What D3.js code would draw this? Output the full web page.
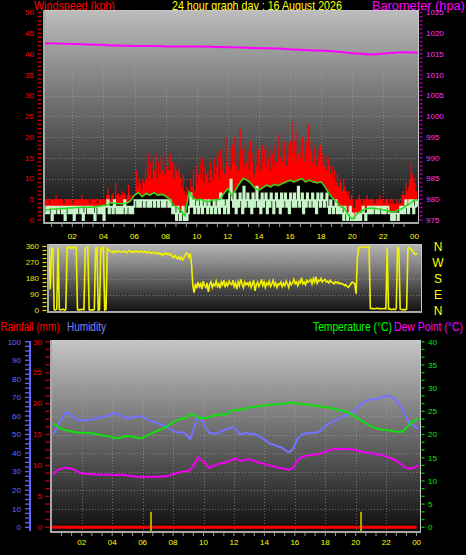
<!DOCTYPE html>
<html><head><meta charset="utf-8">
<script src="https://cdn.jsdelivr.net/npm/d3@7/dist/d3.min.js"></script>
<style>
html,body{margin:0;padding:0;background:#000;}
svg{display:block;font-family:"Liberation Sans",Arial,sans-serif;}
</style></head><body>
<svg id="c" width="466" height="555"></svg>
<script>
// ---------------- DATA ----------------
const titleText = "24 hour graph day : 16 August 2026";
const hourLabels = ["02","04","06","08","10","12","14","16","18","20","22","00"];
const hourLabelHours = [2,4,6,8,10,12,14,16,18,20,22,24];
const windTicks = [0,5,10,15,20,25,30,35,40,45,50];
const baroTicks = [975,980,985,990,995,1000,1005,1010,1015,1020,1025];
const dirTicks = [0,90,180,270,360];
const compassLabels = ["N","W","S","E","N"];
const compassDegrees = [360,270,180,90,0];
const humTicks = [0,10,20,30,40,50,60,70,80,90,100];
const rainTicks = [0,5,10,15,20,25,30];
const tempTicks = [0,5,10,15,20,25,30,35,40];

// wind samples: every 5 minutes starting 00:15
const windStartHour = 0.25, windStepMinutes = 5;
const windGust = [
 5,5,5,4,5,5,5,5,6,5,5,5,
 5,5,4,5,5,5,5,5,5,4,5,5,
 5,5,5,5,6,5,5,5,5,5,4,5,
 5,5,5,5,4,5,5,5,5,5,5,6,
 7.6,6,5,6,6.5,5,9,6,6.5,5.5,6,7,
 6,6.5,5,6,8.5,6,5,6,5.5,6,12,8,
 10,9,7,10,9,12.5,10,16,11,14,10,15,
 12,16,10,14,11,15,12,16,11,13,15,12,
 16,12,14,10,13,12,11,13,10,8,11,7,
 6,8,3,6,10,8,12,7,13,9,11,14,
 10,15,9,13,11,12,9,14,12,10,15,11,
 13,16,10,17,12,15,11,14,20,13,17,12,
 18,14,20,13,16,12,22,15,17,13,18,14,
 17,12,19,14,16,11,18,13,17,15,12,18,
 14,17,13,18,15,12,17,16,13,18,14,17,
 20.5,15,18,14,19,16,13,18,15,19,23.7,16,
 19,14,21,16,18,15,20,17,14,19,16,23,
 17,19,14,18,16,13,17,15,18,14,16,13,
 16,12,15,13,11,13,10,12,9,11,8,10,
 9,7,10,8,7,6,7,5,6,5,3,5,
 5,5,6,5,4,5,5,5,6,5,5,5,
 5,5,4,5,5,5,6,5,5,4,5,5,
 5,4,5,4,5,4,4,5,4,5,4,6,
 7,6,9,7,8,10,13.8,11,10,9,7,6
];
const windSpeed = [
 1.6,3.2,1.6,3.2,3.2,0,3.2,1.6,3.2,3.2,1.6,3.2,
 3.2,1.6,3.2,0,3.2,3.2,1.6,3.2,1.6,3.2,0,3.2,
 1.6,3.2,3.2,1.6,3.2,0,1.6,3.2,3.2,1.6,3.2,1.6,
 3.2,1.6,0,3.2,3.2,1.6,3.2,1.6,3.2,0,3.2,3.2,
 4.8,1.6,3.2,3.2,1.6,4.8,3.2,1.6,3.2,1.6,3.2,1.6,
 3.2,4.8,1.6,3.2,3.2,1.6,3.2,1.6,3.2,4.8,4.8,3.2,
 4.8,3.2,4.8,4.8,3.2,4.8,4.8,3.2,4.8,3.2,4.8,4.8,
 3.2,4.8,4.8,3.2,4.8,4.8,3.2,4.8,3.2,4.8,4.8,3.2,
 4.8,3.2,1.6,3.2,1.6,0,3.2,1.6,0,1.6,3.2,0,
 1.6,0,1.6,3.2,6.4,3.2,4.8,1.6,3.2,4.8,1.6,3.2,
 4.8,1.6,3.2,4.8,3.2,1.6,4.8,3.2,1.6,3.2,4.8,1.6,
 3.2,4.8,1.6,6.4,3.2,4.8,1.6,3.2,4.8,1.6,6.4,9.7,
 4.8,3.2,6.4,1.6,4.8,3.2,6.4,4.8,1.6,8,3.2,4.8,
 6.4,3.2,4.8,1.6,6.4,3.2,4.8,8,3.2,4.8,1.6,6.4,
 3.2,4.8,6.4,1.6,4.8,3.2,6.4,4.8,1.6,4.8,6.4,3.2,
 4.8,1.6,6.4,3.2,4.8,6.4,3.2,4.8,1.6,6.4,4.8,3.2,
 6.4,3.2,4.8,8,3.2,4.8,6.4,1.6,4.8,3.2,6.4,4.8,
 3.2,4.8,6.4,3.2,4.8,1.6,6.4,4.8,3.2,6.4,4.8,3.2,
 4.8,6.4,3.2,1.6,4.8,3.2,1.6,3.2,4.8,1.6,3.2,1.6,
 3.2,1.6,0,3.2,1.6,0,1.6,3.2,0,1.6,0,0,
 1.6,0,1.6,0,1.6,3.2,1.6,0,1.6,3.2,1.6,3.2,
 1.6,3.2,3.2,1.6,3.2,1.6,3.2,3.2,1.6,3.2,1.6,3.2,
 3.2,1.6,1.6,0,1.6,0,1.6,1.6,0,1.6,3.2,1.6,
 3.2,1.6,4.8,3.2,1.6,4.8,3.2,4.8,1.6,3.2,4.8,3.2
];
const windDirection = [
 350,352,348,350,120,352,350,5,3,8,355,5,
 3,5,8,2,6,355,352,358,350,355,352,356,
 354,5,2,6,3,8,4,350,356,352,4,2,
 5,3,6,350,355,2,5,352,348,355,3,6,
 350,340,335,330,332,325,335,328,330,335,332,330,
 328,335,330,325,332,338,330,327,333,329,335,330,
 332,328,335,330,326,333,329,324,330,327,322,328,
 325,320,327,318,323,316,322,310,318,325,315,320,
 312,318,305,296,310,300,292,305,288,300,285,295,
 310,325,318,300,320,260,140,100,150,125,160,135,
 150,120,165,140,130,155,105,145,160,130,150,140,
 165,135,150,125,160,145,170,130,155,140,165,150,
 145,170,135,155,120,160,140,175,150,130,160,145,
 155,140,165,130,150,170,110,145,160,135,150,175,
 140,160,130,155,145,165,135,150,170,140,155,130,
 150,145,160,135,155,140,165,150,130,160,145,155,
 175,150,160,140,165,155,185,150,160,145,170,160,
 165,175,150,180,160,190,155,170,165,180,160,170,
 175,160,165,155,170,160,158,150,162,155,160,150,
 155,148,150,140,145,135,130,140,150,160,155,150,
 95,300,350,355,357,356,357,358,356,357,358,12,
 10,12,9,11,13,10,12,9,11,10,12,10,
 355,8,10,5,6,9,4,10,355,352,8,5,
 3,6,4,8,352,355,348,340,332,318,315,322
];
// average wind: every 15 minutes starting 00:15
const avgStartHour = 0.25, avgStepMinutes = 15;
const windAverage = [
 2.4,2.5,2.6,2.7,2.8,2.8,2.9,2.9,3.0,3.0,3.0,3.1,3.1,3.2,3.3,3.5,
 3.6,4.2,4.0,4.0,3.9,4.1,4.6,6.0,6.6,5.6,6.4,6.0,6.6,6.0,6.2,5.8,
 5.0,3.6,3.0,2.2,1.0,6.8,5.4,4.8,5.0,4.6,4.4,4.8,4.8,5.0,6.4,7.6,
 6.0,7.2,8.8,10.0,9.6,8.8,7.6,7.2,7.8,8.4,8.0,8.6,8.3,8.8,9.2,9.6,
 9.2,9.6,10.0,9.2,9.6,9.2,9.0,9.2,8.0,6.4,5.2,4.4,3.2,2.8,1.2,0.2,
 1.2,2.0,2.4,2.8,2.9,2.8,2.6,2.4,2.3,2.0,2.0,2.4,2.8,3.6,4.0,4.8,4.8
];
// barometer: hourly starting 00:15
const baroStartHour = 0.25, baroStepMinutes = 60;
const barometer = [1017.6,1017.5,1017.4,1017.3,1017.1,1017.0,1016.9,1016.9,1016.8,1016.8,1016.8,1016.7,
 1016.6,1016.5,1016.4,1016.3,1016.1,1015.9,1015.8,1015.5,1015.1,1014.9,1015.2,1015.4,1015.3];

// lower chart: every 15 minutes starting 00:07
const thStartHour = 0.125, thStepMinutes = 15;
const humidity = [
 50,54,58,61,62,60,58.5,57.5,58,57.5,58,58.5,59,59.5,60,60.5,
 61.5,61,60,59,58.5,59.5,59.5,59.8,59,58,57,56.5,55.5,55,54,52.5,
 51.5,51,51.2,50,47.5,53,60,57.5,54,51,50.5,50.5,51.5,52.5,53,54,
 53,50,50.5,51,50,50.5,49,48,46.5,45,44.5,43.5,43,41.5,40.5,42,
 47,49.5,50.5,50.5,51,51,51.5,53.5,55,56.5,57.5,58.5,59.5,60.5,61.5,62.5,
 64.5,66.5,68,68.8,69,69.3,69.6,70.5,70.8,70,68.5,66,63,58,55.5,54.5,53.3
];
const temperature = [
 22.4,21.8,21.3,21.0,20.8,20.6,20.5,20.4,20.4,20.3,20.3,20.1,20.0,19.8,19.7,19.5,
 19.3,19.2,19.4,19.6,19.7,19.5,19.3,19.2,19.5,19.9,20.3,20.7,21.0,21.3,21.8,22.4,
 22.9,23.2,23.4,23.7,24.4,24.2,23.7,23.5,23.6,23.8,24.0,24.2,24.4,24.2,24.6,25.2,
 25.3,25.3,25.5,25.7,25.9,26.0,26.1,26.2,26.3,26.4,26.5,26.5,26.6,26.7,26.8,26.9,
 26.7,26.6,26.5,26.4,26.3,26.2,26.1,26.0,25.8,25.7,25.5,25.3,25.1,24.9,24.5,24.0,
 23.5,23.0,22.5,22.1,21.6,21.3,21.1,21.0,20.9,20.8,20.6,20.6,20.7,21.6,22.5,23.0,23.5
];
const dewPoint = [
 11.3,12.3,12.6,12.8,12.8,12.6,12.2,11.7,11.6,11.5,11.5,11.4,11.4,11.3,11.3,11.3,
 11.2,11.3,11.3,11.2,11.1,11.0,10.9,10.9,10.8,10.9,10.9,10.9,10.9,11.0,11.0,11.3,
 11.6,11.8,12.0,12.1,12.3,13.5,15.1,14.4,13.8,12.8,13.2,13.5,13.8,13.9,14.2,14.5,
 14.9,14.4,14.3,14.6,14.6,14.2,13.9,13.8,13.5,13.3,13.1,12.9,12.7,12.6,12.4,12.8,
 14.2,15.0,15.3,15.5,15.6,15.7,15.8,16.1,16.5,16.7,16.8,16.9,16.9,16.9,16.8,16.7,
 16.5,16.3,16.1,16.0,15.9,15.7,15.6,15.4,15.1,14.8,14.4,13.9,13.2,12.7,12.7,12.9,13.4
];
// rainfall (mm), hourly
const rainStartHour = 0, rainStepMinutes = 60;
const rainfall = [0,0,0,0,0,0,0,0,0,0,0,0,0,0,0,0,0,0,0,0,0,0,0,0,0];
// rain rate spikes
const rainEventHours = [6.55, 20.35];
const rainEventValues = [2.5, 2.5];

// ---------------- DRAW ----------------
const svg = d3.select('#c');
const defs = svg.append('defs');
function grad(id, c0, c1){
  const g = defs.append('linearGradient').attr('id',id).attr('x1',0).attr('y1',0).attr('x2',0).attr('y2',1);
  g.append('stop').attr('offset',0).attr('stop-color',c0);
  g.append('stop').attr('offset',1).attr('stop-color',c1);
}
grad('gTop','#bdbdbd','#0c0c0c');
grad('gMid','#b8b8b8','#0d0d0d');
grad('gBot','#c6c6c6','#0c0c0c');
function clip(id,r){ defs.append('clipPath').attr('id',id).append('rect')
  .attr('x',r.l).attr('y',r.t).attr('width',r.r-r.l).attr('height',r.b-r.t); }
const times = (start, stepMin, arr) => arr.map((v,i)=>({t: start + i*stepMin/60, v}));
const fontSm = 8;

function frame(r, gid){
  svg.append('rect').attr('x',r.l).attr('y',r.t).attr('width',r.r-r.l).attr('height',r.b-r.t)
    .attr('fill',`url(#${gid})`);
}
function border(r){
  svg.append('rect').attr('x',r.l+0.5).attr('y',r.t+0.5).attr('width',r.r-r.l-1).attr('height',r.b-r.t-1)
    .attr('fill','none').attr('stroke','#c8c8c8').attr('stroke-width',1);
  svg.append('line').attr('x1',r.l+1).attr('x2',r.l+1).attr('y1',r.t).attr('y2',r.b).attr('stroke','#a8a8a8').attr('stroke-width',2);
  svg.append('line').attr('x1',r.l).attr('x2',r.r).attr('y1',r.b-1).attr('y2',r.b-1).attr('stroke','#a8a8a8').attr('stroke-width',2);
}
function gridH(r, ys){
  svg.append('g').selectAll('line').data(ys).join('line')
    .attr('x1',r.l).attr('x2',r.r).attr('y1',d=>Math.round(d)+0.5).attr('y2',d=>Math.round(d)+0.5)
    .attr('stroke','#a5a5a5').attr('stroke-opacity',0.55).attr('stroke-dasharray','1,2');
}
function gridV(r, xs){
  svg.append('g').selectAll('line').data(xs).join('line')
    .attr('y1',r.t).attr('y2',r.b).attr('x1',d=>Math.round(d)+0.5).attr('x2',d=>Math.round(d)+0.5)
    .attr('stroke','#a5a5a5').attr('stroke-opacity',0.55).attr('stroke-dasharray','1,2');
}
function text(x,y,s,fill,size,anchor){
  return svg.append('text').attr('x',x).attr('y',y).attr('fill',fill).attr('font-size',size)
    .attr('text-anchor',anchor||'start').text(s);
}
// caption text stretched horizontally to the width it has in the picture
function caption(x,y,s,fill,size,targetW){
  const g = svg.append('g').attr('transform',`translate(${x},${y})`);
  const t = g.append('text').attr('x',0).attr('y',0).attr('fill',fill).attr('font-size',size).text(s);
  const w = t.node().getComputedTextLength();
  g.attr('transform',`translate(${x},${y}) scale(${targetW/w},1)`);
}

// ---- titles (drawn first so plot covers descenders)
caption(34,9.5,"Windspeed (kph)","#ff0000",12,81);
caption(172,9.5,titleText,"#ffff00",12,170);
caption(372,9.5,"Barometer (hpa)","#ff00ff",12,93);

// ================= TOP CHART =================
const T = {l:43, r:419, t:10, b:224};
const xTop = d3.scaleLinear().domain([0,24]).range([41.2,414.4]);
const yWind = d3.scaleLinear().domain([0,50]).range([220,12.5]);
const yBaro = d3.scaleLinear().domain([975,1025]).range([220,12.5]);
frame(T,'gTop');
gridH(T, windTicks.filter(v=>v>0&&v<50).map(yWind));
gridV(T, hourLabelHours.filter(h=>h<24).map(xTop));
clip('cTop',{l:T.l+2,r:T.r-1,t:T.t+1,b:T.b-2});
const gTop = svg.append('g').attr('clip-path','url(#cTop)');
const gustD = times(windStartHour, windStepMinutes, windGust);
const spdD = times(windStartHour, windStepMinutes, windSpeed);
const avgD = times(avgStartHour, avgStepMinutes, windAverage);
const baroD = times(baroStartHour, baroStepMinutes, barometer);
gTop.append('path').datum(gustD)
  .attr('d', d3.area().curve(d3.curveStepAfter).x(d=>xTop(d.t)).y0(yWind(0)).y1(d=>yWind(d.v)))
  .attr('fill','#ff0000');
gTop.append('path').datum(avgD)
  .attr('d', d3.area().curve(d3.curveLinear).x(d=>xTop(d.t)).y0(yWind(0)+2).y1(d=>yWind(d.v)+1))
  .attr('fill','#000');
gTop.append('path').datum(spdD)
  .attr('d', d3.line().curve(d3.curveStepAfter).x(d=>xTop(d.t)).y(d=>yWind(d.v)))
  .attr('fill','none').attr('stroke','#c8f5c8').attr('stroke-width',1.9);
gTop.append('path').datum(avgD)
  .attr('d', d3.line().x(d=>xTop(d.t)).y(d=>yWind(d.v)))
  .attr('fill','none').attr('stroke','#1fe01f').attr('stroke-width',1.5);
gTop.append('path').datum(baroD)
  .attr('d', d3.line().curve(d3.curveMonotoneX).x(d=>xTop(d.t)).y(d=>yBaro(d.v)))
  .attr('fill','none').attr('stroke','#ff00ff').attr('stroke-width',2);
border(T);
// left ticks
svg.append('g').selectAll('line').data(d3.range(0,51)).join('line')
  .attr('x1',37.5).attr('x2',41.5).attr('y1',d=>yWind(d)).attr('y2',d=>yWind(d))
  .attr('stroke','#d40000').attr('stroke-width',1.3);
windTicks.forEach(v=>text(34,yWind(v),String(v),'#ff0000',fontSm,'end').attr('dy','0.35em'));
// right ticks
svg.append('g').selectAll('line').data(d3.range(975,1026)).join('line')
  .attr('x1',419.5).attr('x2',422.5).attr('y1',d=>yBaro(d)).attr('y2',d=>yBaro(d))
  .attr('stroke','#b400b4').attr('stroke-width',1.3);
baroTicks.forEach(v=>text(426,yBaro(v),String(v),'#ff33ff',fontSm,'start').attr('dy','0.35em'));
// x ticks + labels
svg.append('g').selectAll('line').data(d3.range(1,36)).join('line')
  .attr('x1',d=>xTop(d*2/3)).attr('x2',d=>xTop(d*2/3)).attr('y1',224).attr('y2',227)
  .attr('stroke','#9a9a9a');
hourLabels.forEach((s,i)=>text(xTop(hourLabelHours[i]),236,s,'#ffff00',fontSm,'middle').attr('dy','0.35em'));

// ================= MIDDLE CHART =================
const M = {l:47, r:422, t:244, b:313};
const yDir = d3.scaleLinear().domain([0,360]).range([310.5,246.5]);
frame(M,'gMid');
gridH(M, [90,180,270].map(yDir));
clip('cMid',{l:M.l+2,r:M.r-1,t:M.t+1,b:M.b-2});
const dirD = times(windStartHour, windStepMinutes, windDirection);
svg.append('g').attr('clip-path','url(#cMid)').append('path').datum(dirD)
  .attr('d', d3.line().x(d=>xTop(d.t)).y(d=>yDir(d.v)))
  .attr('fill','none').attr('stroke','#f2f200').attr('stroke-width',1.6);
border(M);
svg.append('g').selectAll('line').data(d3.range(0,361,22.5)).join('line')
  .attr('x1',42.5).attr('x2',46.5).attr('y1',d=>yDir(d)).attr('y2',d=>yDir(d))
  .attr('stroke','#d8d800').attr('stroke-width',1.3);
dirTicks.forEach(v=>text(39,yDir(v),String(v),'#e8e800',fontSm,'end').attr('dy','0.35em'));
compassLabels.forEach((s,i)=>text(438,yDir(compassDegrees[i]),s,'#ffff00',12,'middle').attr('dy','0.36em'));

// ================= BOTTOM CHART =================
caption(0.5,330.5,"Rainfall (mm)","#ff0000",12,59);
caption(67,330.5,"Humidity","#8080ff",12,39);
caption(313,330.5,"Temperature (°C)","#00ff00",12,79);
caption(394,330.5,"Dew Point (°C)","#ff00ff",12,69);
const B = {l:50, r:421, t:340, b:533};
const xBot = d3.scaleLinear().domain([0,24]).range([51.3,416.6]);
const yHum = d3.scaleLinear().domain([0,100]).range([527.3,341.7]);
const yRain = d3.scaleLinear().domain([0,30]).range([527.3,341.7]);
const yTemp = d3.scaleLinear().domain([0,40]).range([527.3,341.7]);
frame(B,'gBot');
gridH(B, humTicks.filter(v=>v>0&&v<100).map(yHum));
gridV(B, hourLabelHours.filter(h=>h<24).map(xBot));
clip('cBot',{l:B.l+2,r:B.r-1,t:B.t+1,b:B.b-2});
const gB = svg.append('g').attr('clip-path','url(#cBot)');
const humD = times(thStartHour, thStepMinutes, humidity);
const tD = times(thStartHour, thStepMinutes, temperature);
const dD = times(thStartHour, thStepMinutes, dewPoint);
const rD = times(rainStartHour, rainStepMinutes, rainfall);
gB.append('path').datum(humD).attr('d', d3.line().x(d=>xBot(d.t)).y(d=>yHum(d.v)))
  .attr('fill','none').attr('stroke','#7373ff').attr('stroke-width',2);
gB.append('path').datum(tD).attr('d', d3.line().x(d=>xBot(d.t)).y(d=>yTemp(d.v)))
  .attr('fill','none').attr('stroke','#10e010').attr('stroke-width',2);
gB.append('path').datum(dD).attr('d', d3.line().x(d=>xBot(d.t)).y(d=>yTemp(d.v)))
  .attr('fill','none').attr('stroke','#f000f0').attr('stroke-width',2);
gB.append('path').datum(rD).attr('d', d3.line().x(d=>xBot(d.t)).y(d=>yRain(d.v)))
  .attr('fill','none').attr('stroke','#ff0000').attr('stroke-width',3);
border(B);
svg.append('g').selectAll('line').data(rainEventHours).join('line')
  .attr('x1',d=>xBot(d)).attr('x2',d=>xBot(d)).attr('y1',B.b-1)
  .attr('y2',(d,i)=>yRain(rainEventValues[i]))
  .attr('stroke','#a8a800').attr('stroke-width',2);
// humidity axis
svg.append('line').attr('x1',30).attr('x2',30).attr('y1',341).attr('y2',531)
  .attr('stroke','#6262ff').attr('stroke-width',2);
svg.append('g').selectAll('line').data(d3.range(0,101,2.5)).join('line')
  .attr('x1',25).attr('x2',29).attr('y1',d=>yHum(d)).attr('y2',d=>yHum(d))
  .attr('stroke','#6262ff').attr('stroke-width',1.3);
humTicks.forEach(v=>text(21,yHum(v),String(v),'#6a6aff',fontSm,'end').attr('dy','0.35em'));
// rain axis
svg.append('g').selectAll('line').data(d3.range(0,30.01,1.25)).join('line')
  .attr('x1',45.5).attr('x2',49.5).attr('y1',d=>yRain(d)).attr('y2',d=>yRain(d))
  .attr('stroke','#d00000').attr('stroke-width',1.3);
rainTicks.forEach(v=>text(42,yRain(v),String(v),'#ff0000',fontSm,'end').attr('dy','0.35em'));
// temperature axis
svg.append('g').selectAll('line').data(d3.range(0,24.1).map(i=>i*5/3)).join('line')
  .attr('x1',421.5).attr('x2',424.5).attr('y1',d=>yTemp(d)).attr('y2',d=>yTemp(d))
  .attr('stroke','#00c800').attr('stroke-width',1.3);
tempTicks.forEach(v=>text(428,yTemp(v),String(v),'#00ee00',fontSm,'start').attr('dy','0.35em'));
// x ticks + labels
svg.append('g').selectAll('line').data(d3.range(1,37)).join('line')
  .attr('x1',d=>xBot(d*2/3)).attr('x2',d=>xBot(d*2/3)).attr('y1',533).attr('y2',536)
  .attr('stroke','#9a9a9a');
hourLabels.forEach((s,i)=>text(xBot(hourLabelHours[i]),542,s,'#ffff00',fontSm,'middle').attr('dy','0.35em'));
</script></body></html>
